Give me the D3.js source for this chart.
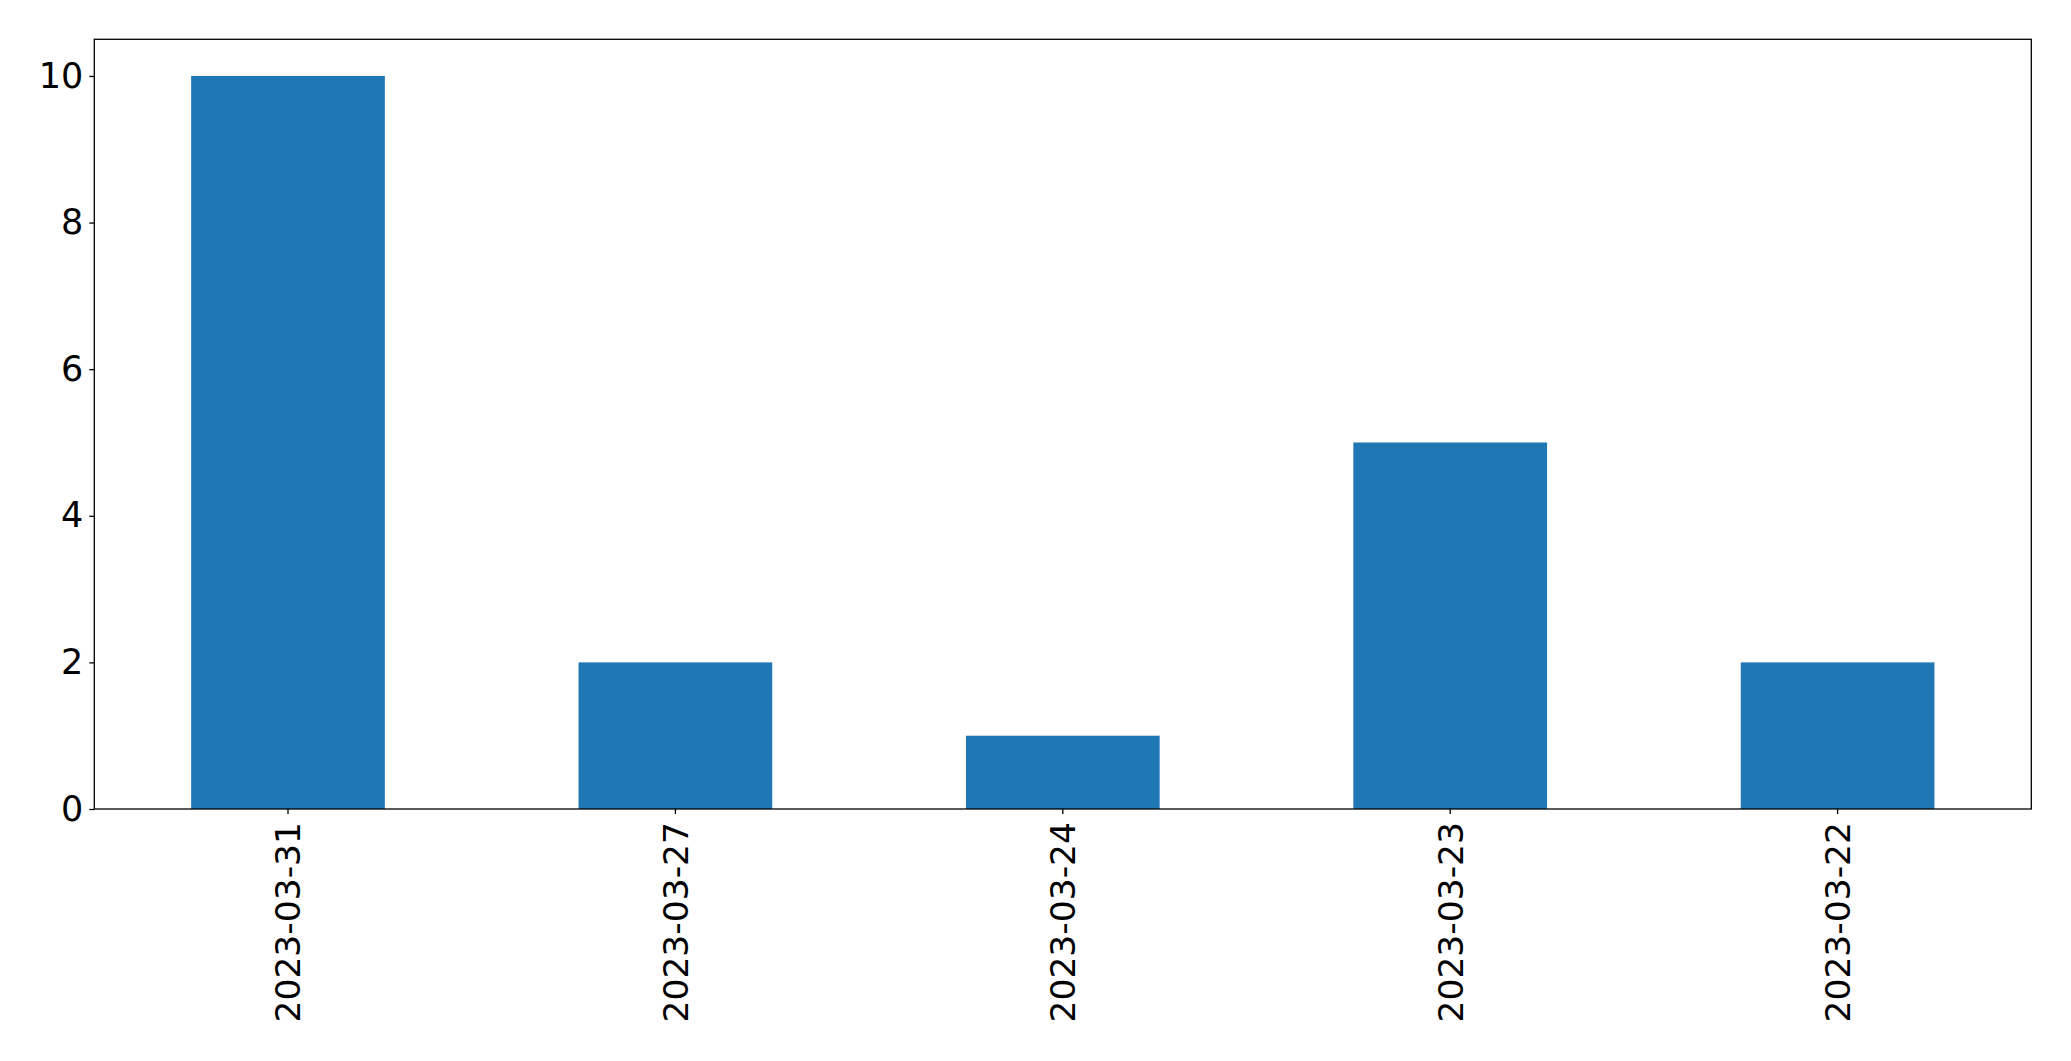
<!DOCTYPE html>
<html>
<head>
<meta charset="utf-8">
<script src="https://cdn.jsdelivr.net/npm/d3@7/dist/d3.min.js"></script>
<style>
  html, body { margin: 0; padding: 0; background: #fff; }
  svg { display: block; }
  text { font-family: "DejaVu Sans", sans-serif; }
</style>
</head>
<body>
<script>
const categories = ["2023-03-31", "2023-03-27", "2023-03-24", "2023-03-23", "2023-03-22"];
const values = [10, 2, 1, 5, 2];
const yTicks = [0, 2, 4, 6, 8, 10];

(function () {
const W = 2071, H = 1061;
const mLeft = 94.3, mRight = 2031.3, mTop = 39.3, mBottom = 809;

const svg = d3.select("body").append("svg").attr("width", W).attr("height", H);

const x = d3.scaleBand().domain(categories).range([mLeft, mRight]).paddingInner(0.5).paddingOuter(0.25);
const y = d3.scaleLinear().domain([0, 10.5]).range([mBottom, mTop]);

svg.append("g").selectAll("rect").data(values).join("rect")
  .attr("x", (d, i) => x(categories[i]))
  .attr("width", x.bandwidth())
  .attr("y", d => y(d))
  .attr("height", d => y(0) - y(d))
  .attr("fill", "#1f77b4");

// Y axis
const yAxis = svg.append("g").attr("transform", `translate(${mLeft},0)`)
  .call(d3.axisLeft(y).tickValues(yTicks).tickSize(5).tickPadding(6).tickFormat(d3.format("d")));
yAxis.select(".domain").remove();
yAxis.selectAll("line").attr("stroke", "#000").attr("stroke-width", 1.3);
yAxis.selectAll("text").attr("font-size", 35).attr("fill", "#000").attr("font-family", "DejaVu Sans");

// X axis
const xAxis = svg.append("g").attr("transform", `translate(0,${mBottom})`)
  .call(d3.axisBottom(x).tickSize(5).tickPadding(0));
xAxis.select(".domain").remove();
xAxis.selectAll("line").attr("stroke", "#000").attr("stroke-width", 1.3);
xAxis.selectAll("text")
  .attr("font-size", 34.5).attr("fill", "#000").attr("font-family", "DejaVu Sans")
  .attr("text-anchor", "end")
  .attr("y", 0).attr("dy", "0.36em")
  .attr("transform", "translate(0,13) rotate(-90)");

// Frame
svg.append("rect")
  .attr("x", mLeft).attr("y", mTop)
  .attr("width", mRight - mLeft).attr("height", mBottom - mTop)
  .attr("fill", "none").attr("stroke", "#000").attr("stroke-width", 1.3);
})();
</script>
</body>
</html>
